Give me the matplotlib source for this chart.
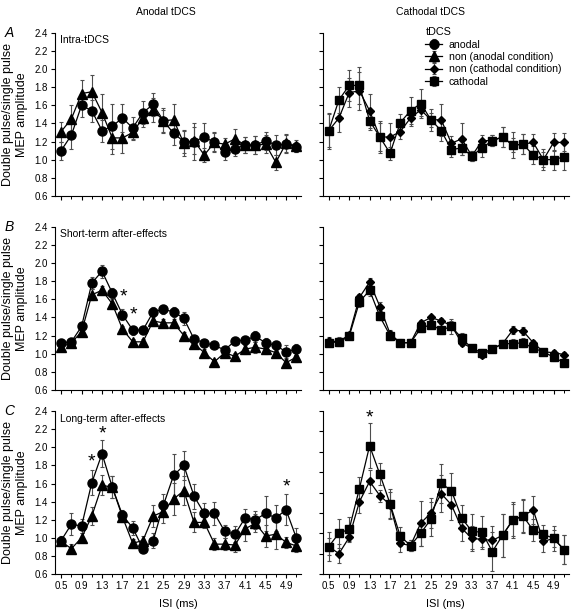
import numpy as np
import matplotlib
matplotlib.use("Agg")
import matplotlib.pyplot as plt
from matplotlib.ticker import FormatStrFormatter, NullFormatter

plt.rcParams['font.family'] = ['Liberation Sans', 'DejaVu Sans']

# ISI in ms, 0.5 .. 5.1 in 0.2 steps
isi = [0.5, 0.7, 0.9, 1.1, 1.3, 1.5, 1.7, 1.9, 2.1, 2.3, 2.5, 2.7,
       2.9, 3.1, 3.3, 3.5, 3.7, 3.9, 4.1, 4.3, 4.5, 4.7, 4.9, 5.1]
isi_ticks = [0.5, 0.9, 1.3, 1.7, 2.1, 2.5, 2.9, 3.3, 3.7, 4.1, 4.5, 4.9]

# --- A: intra-tDCS ---
a_anodal = [1.10, 1.27, 1.60, 1.54, 1.32, 1.37, 1.46, 1.35, 1.52, 1.61, 1.43, 1.29,
            1.20, 1.20, 1.25, 1.19, 1.08, 1.12, 1.16, 1.16, 1.21, 1.16, 1.17, 1.14]
a_anodal_err = [0.10, 0.15, 0.13, 0.12, 0.12, 0.25, 0.15, 0.12, 0.13, 0.13, 0.14, 0.13,
                0.13, 0.20, 0.15, 0.11, 0.08, 0.08, 0.09, 0.10, 0.10, 0.11, 0.10, 0.06]
a_non_an = [1.31, 1.45, 1.73, 1.75, 1.52, 1.24, 1.24, 1.30, 1.46, 1.55, 1.43, 1.44,
            1.18, 1.21, 1.05, 1.19, 1.17, 1.23, 1.16, 1.16, 1.17, 0.97, 1.18, 1.15]
a_non_an_err = [0.11, 0.15, 0.15, 0.18, 0.20, 0.18, 0.17, 0.08, 0.10, 0.13, 0.12, 0.18,
                0.14, 0.15, 0.08, 0.10, 0.07, 0.11, 0.09, 0.10, 0.10, 0.08, 0.10, 0.07]
a_cathodal = [1.32, 1.66, 1.82, 1.82, 1.43, 1.25, 1.07, 1.41, 1.54, 1.62, 1.44, 1.32,
              1.11, 1.13, 1.04, 1.13, 1.21, 1.25, 1.16, 1.17, 1.05, 1.00, 1.00, 1.03]
a_cathodal_err = [0.18, 0.14, 0.17, 0.20, 0.10, 0.16, 0.07, 0.09, 0.15, 0.16, 0.12, 0.11,
                  0.08, 0.08, 0.06, 0.10, 0.06, 0.11, 0.08, 0.11, 0.10, 0.12, 0.11, 0.14]
a_non_cat = [1.32, 1.46, 1.74, 1.76, 1.54, 1.25, 1.25, 1.31, 1.46, 1.55, 1.44, 1.44,
             1.18, 1.23, 1.04, 1.21, 1.21, 1.25, 1.16, 1.17, 1.19, 1.00, 1.19, 1.19]
a_non_cat_err = [0.20, 0.16, 0.16, 0.21, 0.19, 0.18, 0.16, 0.08, 0.09, 0.07, 0.08, 0.18,
                 0.08, 0.18, 0.06, 0.06, 0.06, 0.11, 0.14, 0.11, 0.09, 0.08, 0.10, 0.10]

# --- B: short-term after-effects ---
b_anodal = [1.12, 1.13, 1.30, 1.78, 1.91, 1.67, 1.43, 1.26, 1.26, 1.46, 1.49, 1.46,
            1.39, 1.16, 1.12, 1.09, 1.04, 1.14, 1.15, 1.19, 1.12, 1.09, 1.02, 1.05]
b_anodal_err = [0.04, 0.04, 0.04, 0.07, 0.07, 0.06, 0.06, 0.05, 0.04, 0.06, 0.05, 0.06,
                0.07, 0.04, 0.03, 0.03, 0.04, 0.04, 0.05, 0.06, 0.05, 0.05, 0.07, 0.06]
b_non_an = [1.07, 1.12, 1.24, 1.65, 1.70, 1.55, 1.27, 1.13, 1.13, 1.36, 1.34, 1.34,
            1.20, 1.11, 1.01, 0.91, 1.01, 0.97, 1.05, 1.07, 1.05, 1.01, 0.90, 0.96]
b_non_an_err = [0.04, 0.03, 0.04, 0.06, 0.05, 0.05, 0.03, 0.03, 0.03, 0.05, 0.04, 0.04,
                0.04, 0.04, 0.04, 0.03, 0.05, 0.04, 0.05, 0.06, 0.05, 0.04, 0.04, 0.05]
b_cathodal = [1.12, 1.13, 1.19, 1.57, 1.70, 1.41, 1.20, 1.12, 1.12, 1.28, 1.32, 1.26,
              1.30, 1.17, 1.06, 1.01, 1.05, 1.11, 1.11, 1.12, 1.06, 1.02, 0.96, 0.90]
b_cathodal_err = [0.04, 0.05, 0.03, 0.05, 0.06, 0.04, 0.05, 0.04, 0.04, 0.04, 0.04, 0.04,
                  0.08, 0.06, 0.03, 0.04, 0.03, 0.04, 0.05, 0.05, 0.04, 0.03, 0.04, 0.04]
b_non_cat = [1.14, 1.13, 1.21, 1.62, 1.79, 1.52, 1.22, 1.12, 1.12, 1.34, 1.40, 1.36,
             1.31, 1.12, 1.06, 0.98, 1.05, 1.11, 1.26, 1.25, 1.12, 1.02, 1.01, 0.99]
b_non_cat_err = [0.04, 0.04, 0.03, 0.04, 0.04, 0.05, 0.04, 0.03, 0.04, 0.03, 0.03, 0.03,
                 0.05, 0.04, 0.03, 0.03, 0.03, 0.04, 0.04, 0.04, 0.03, 0.03, 0.03, 0.03]

# --- C: long-term after-effects ---
c_anodal = [0.97, 1.15, 1.13, 1.61, 1.93, 1.56, 1.25, 1.11, 0.88, 0.97, 1.36, 1.69,
            1.80, 1.46, 1.27, 1.27, 1.07, 1.04, 1.22, 1.20, 1.27, 1.22, 1.31, 1.00]
c_anodal_err = [0.05, 0.12, 0.08, 0.14, 0.15, 0.12, 0.06, 0.08, 0.04, 0.08, 0.12, 0.24,
                0.16, 0.14, 0.12, 0.13, 0.07, 0.09, 0.10, 0.10, 0.19, 0.14, 0.17, 0.11]
c_non_an = [0.96, 0.88, 1.00, 1.24, 1.58, 1.56, 1.23, 0.94, 0.97, 1.24, 1.29, 1.43,
            1.52, 1.17, 1.17, 0.93, 0.93, 0.92, 1.10, 1.16, 1.02, 1.04, 0.95, 0.91]
c_non_an_err = [0.04, 0.05, 0.05, 0.10, 0.11, 0.12, 0.06, 0.05, 0.05, 0.12, 0.13, 0.18,
                0.16, 0.11, 0.06, 0.07, 0.07, 0.08, 0.13, 0.10, 0.12, 0.16, 0.06, 0.07]
c_cathodal = [1.07, 1.20, 1.24, 1.64, 2.06, 1.78, 1.49, 1.17, 1.08, 1.20, 1.34, 1.69,
              1.62, 1.35, 1.22, 1.21, 1.02, 1.18, 1.33, 1.37, 1.23, 1.19, 1.15, 1.04]
c_cathodal_err = [0.08, 0.14, 0.12, 0.11, 0.22, 0.11, 0.15, 0.09, 0.05, 0.12, 0.17, 0.19,
                  0.17, 0.13, 0.17, 0.16, 0.19, 0.21, 0.16, 0.16, 0.11, 0.09, 0.12, 0.14]
c_non_cat = [1.07, 1.00, 1.16, 1.51, 1.71, 1.57, 1.48, 1.10, 1.08, 1.30, 1.40, 1.59,
             1.48, 1.25, 1.15, 1.14, 1.13, 1.18, 1.33, 1.37, 1.43, 1.12, 1.15, 1.04]
c_non_cat_err = [0.14, 0.09, 0.05, 0.11, 0.11, 0.06, 0.13, 0.08, 0.05, 0.22, 0.15, 0.18,
                 0.15, 0.13, 0.12, 0.07, 0.14, 0.21, 0.18, 0.17, 0.14, 0.10, 0.08, 0.14]

# significance stars (x, y)
stars_left_b = [(1.72, 1.63), (1.92, 1.43)]
stars_left_c = [(1.1, 1.84), (1.3, 2.15), (4.9, 1.56)]
stars_right_c = [(1.3, 2.33)]

row_titles = ['Intra-tDCS', 'Short-term after-effects', 'Long-term after-effects']
row_letters = ['A', 'B', 'C']

fig = plt.figure(figsize=(5.73, 6.10), dpi=100)

lefts = [0.096, 0.563]
width = 0.43
bottoms = [0.679, 0.361, 0.059]
height = 0.267

def style_axis(ax, ylim, yticks, show_ylabels, show_xlabels):
    ax.spines['top'].set_visible(False)
    ax.spines['right'].set_visible(False)
    ax.spines['left'].set_linewidth(0.8)
    ax.spines['bottom'].set_linewidth(0.8)
    ax.set_xlim(0.38, 5.2)
    ax.set_ylim(*ylim)
    ax.set_xticks(isi_ticks)
    ax.set_xticks(isi, minor=True)
    ax.set_yticks(yticks)
    ax.tick_params(direction='out', length=3, width=0.8, labelsize=7, pad=2)
    ax.tick_params(which='minor', direction='out', length=2.5, width=0.7)
    if show_ylabels:
        ax.yaxis.set_major_formatter(FormatStrFormatter('%.1f'))
    else:
        ax.yaxis.set_major_formatter(NullFormatter())
    if show_xlabels:
        ax.set_xticklabels(['%.1f' % t for t in isi_ticks])
        ax.set_xlabel('ISI (ms)', fontsize=8, labelpad=6)
    else:
        ax.xaxis.set_major_formatter(NullFormatter())

def series(ax, y, e, marker, ms, label):
    return ax.errorbar(isi, y, yerr=e, fmt='-', marker=marker, ms=ms, color='k',
                       ecolor='0.3', elinewidth=0.8, capsize=1.5, capthick=0.8,
                       lw=0.9, label=label)

left_data = [(a_anodal, a_anodal_err, a_non_an, a_non_an_err),
             (b_anodal, b_anodal_err, b_non_an, b_non_an_err),
             (c_anodal, c_anodal_err, c_non_an, c_non_an_err)]
right_data = [(a_cathodal, a_cathodal_err, a_non_cat, a_non_cat_err),
              (b_cathodal, b_cathodal_err, b_non_cat, b_non_cat_err),
              (c_cathodal, c_cathodal_err, c_non_cat, c_non_cat_err)]

for row in range(3):
    axl = fig.add_axes([lefts[0], bottoms[row], width, height])
    axr = fig.add_axes([lefts[1], bottoms[row], width, height])
    bottom_row = row == 2
    style_axis(axl, (0.6, 2.4), np.arange(0.6, 2.41, 0.2), True, bottom_row)
    if row == 2:
        style_axis(axr, (0.8, 2.4), np.arange(0.8, 2.41, 0.2), False, True)
    else:
        style_axis(axr, (0.6, 2.4), np.arange(0.6, 2.41, 0.2), False, False)

    an, an_e, nan, nan_e = left_data[row]
    h2 = series(axl, nan, nan_e, '^', 6.5, 'non (anodal condition)')
    h1 = series(axl, an, an_e, 'o', 6.5, 'anodal')
    ca, ca_e, nca, nca_e = right_data[row]
    h3 = series(axr, nca, nca_e, 'D', 4.5, 'non (cathodal condition)')
    h4 = series(axr, ca, ca_e, 's', 5.5, 'cathodal')
    if row == 0:
        leg = axr.legend(handles=[h1, h2, h3, h4], title='tDCS', loc='upper left',
                         bbox_to_anchor=(0.40, 1.06), frameon=False, fontsize=7.6,
                         title_fontsize=7.8, handlelength=1.6, handletextpad=0.6,
                         labelspacing=0.22, borderaxespad=0)
        leg._legend_box.align = 'left'

    axl.set_ylabel('Double pulse/single pulse\nMEP amplitude', fontsize=9,
                   labelpad=5)
    axl.text(0.02, 0.985, row_titles[row], transform=axl.transAxes, fontsize=7.5,
             va='top', ha='left')
    fig.text(0.008, bottoms[row] + height, row_letters[row], fontsize=10,
             style='italic', va='center', ha='left')

    if row == 1:
        for sx, sy in stars_left_b:
            axl.text(sx, sy, '*', fontsize=14, ha='center', va='center')
    if row == 2:
        for sx, sy in stars_left_c:
            axl.text(sx, sy, '*', fontsize=14, ha='center', va='center')
        for sx, sy in stars_right_c:
            axr.text(sx, sy, '*', fontsize=14, ha='center', va='center')

fig.text(0.29, 0.981, 'Anodal tDCS', fontsize=7.5, ha='center', va='center')
fig.text(0.752, 0.981, 'Cathodal tDCS', fontsize=7.5, ha='center', va='center')

fig.savefig('out.png', dpi=100)
